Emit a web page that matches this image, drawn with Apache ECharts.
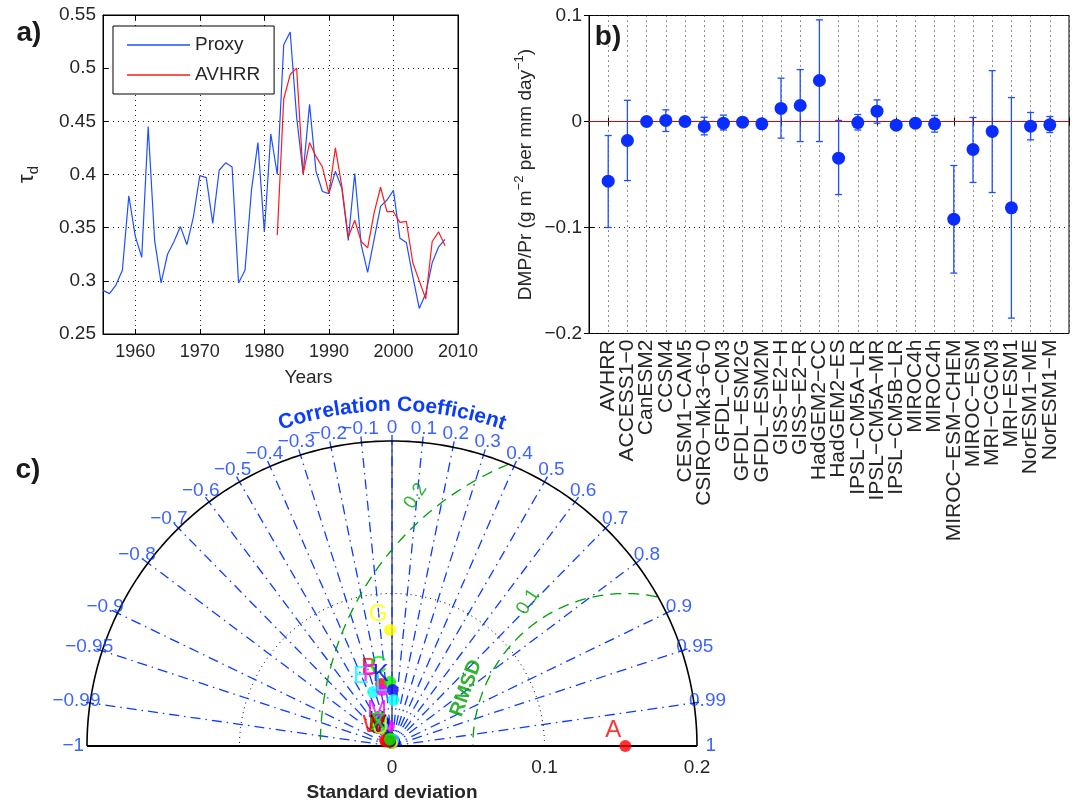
<!DOCTYPE html>
<html><head><meta charset="utf-8">
<script src="https://cdn.jsdelivr.net/npm/echarts@6/dist/echarts.min.js"></script>
<style>html,body{margin:0;padding:0;background:#fff}#chart{width:1079px;height:805px}</style>
</head><body><div id="chart"></div>
<script>
// ---------- Panel a data ----------
const proxyYears = [1955,1956,1957,1958,1959,1960,1961,1962,1963,1964,1965,1966,1967,1968,1969,1970,1971,1972,1973,1974,1975,1976,1977,1978,1979,1980,1981,1982,1983,1984,1985,1986,1987,1988,1989,1990,1991,1992,1993,1994,1995,1996,1997,1998,1999,2000,2001,2002,2003,2004,2005,2006,2007,2008];
const proxyValues = [0.291,0.288,0.296,0.310,0.380,0.342,0.322,0.445,0.338,0.298,0.325,0.337,0.351,0.334,0.360,0.399,0.397,0.354,0.404,0.411,0.407,0.298,0.310,0.385,0.430,0.346,0.438,0.400,0.522,0.534,0.454,0.401,0.466,0.403,0.384,0.382,0.403,0.387,0.338,0.401,0.334,0.308,0.339,0.370,0.376,0.385,0.340,0.336,0.304,0.274,0.288,0.317,0.332,0.339];
const avhrrYears = [1982,1983,1984,1985,1986,1987,1988,1989,1990,1991,1992,1993,1994,1995,1996,1997,1998,1999,2000,2001,2002,2003,2004,2005,2006,2007,2008];
const avhrrValues = [0.343,0.471,0.494,0.500,0.400,0.430,0.417,0.407,0.382,0.425,0.389,0.341,0.357,0.337,0.331,0.364,0.388,0.365,0.365,0.355,0.356,0.317,0.300,0.283,0.337,0.346,0.333];
const yearTicks = [1960,1970,1980,1990,2000,2010];

// ---------- Panel b data ----------
const modelNames = ['AVHRR','ACCESS1\u22120','CanESM2','CCSM4','CESM1\u2212CAM5','CSIRO\u2212Mk3\u22126\u22120','GFDL\u2212CM3','GFDL\u2212ESM2G','GFDL\u2212ESM2M','GISS\u2212E2\u2212H','GISS\u2212E2\u2212R','HadGEM2\u2212CC','HadGEM2\u2212ES','IPSL\u2212CM5A\u2212LR','IPSL\u2212CM5A\u2212MR','IPSL\u2212CM5B\u2212LR','MIROC4h','MIROC4h','MIROC\u2212ESM\u2212CHEM','MIROC\u2212ESM','MRI\u2212CGCM3','MRI\u2212ESM1','NorESM1\u2212ME','NorESM1\u2212M'];
const dmpValues = [-0.0563,-0.0179,0.0000,0.0010,0.0000,-0.0047,-0.0016,-0.0006,-0.0022,0.0123,0.0151,0.0387,-0.0346,-0.0010,0.0097,-0.0035,-0.0016,-0.0022,-0.0921,-0.0264,-0.0094,-0.0814,-0.0044,-0.0031];
const dmpHigh = [-0.0132,0.0200,0.0010,0.0110,0.0010,0.0040,0.0060,0.0010,0.0005,0.0409,0.0490,0.0959,0.0010,0.0066,0.0204,-0.0020,-0.0005,0.0057,-0.0415,0.0038,0.0480,0.0226,0.0085,0.0047];
const dmpLow = [-0.1000,-0.0557,-0.0010,-0.0094,-0.0010,-0.0126,-0.0080,-0.0020,-0.0040,-0.0157,-0.0189,-0.0189,-0.0689,-0.0080,-0.0016,-0.0050,-0.0030,-0.0100,-0.1430,-0.0575,-0.0670,-0.1855,-0.0173,-0.0104];

// ---------- Panel c data (Taylor diagram) ----------
const taylorLetters = ['A','B','C','D','E','F','G','H','I','J','K','L','M','N','O','P','Q','R','S','T','U','V','W','X'];
const taylorStd  = [0.153,0.0413,0.0420,0.0040,0.0375,0.0373,0.0760,0.0062,0.0060,0.0043,0.0367,0.0302,0.0133,0.0030,0.0020,0.0040,0.0050,0.0030,0.0040,0.0035,0.0020,0.0030,0.0050,0.0045];
const taylorCorr = [1.00,-0.174,-0.03,0.30,-0.33,-0.18,-0.017,-0.32,-0.76,-0.41,0.012,0.03,-0.15,0.10,-0.20,-0.60,-0.20,0.50,0.20,-0.10,0.00,-0.40,-0.80,-0.30];
const taylorColorCycle = ['#ff0000','#00ee00','#0000ff','#00ffff','#ff00ff','#ffff00','#000000'];
const corrTickValues = [-1,-0.99,-0.95,-0.9,-0.8,-0.7,-0.6,-0.5,-0.4,-0.3,-0.2,-0.1,0,0.1,0.2,0.3,0.4,0.5,0.6,0.7,0.8,0.9,0.95,0.99,1];
const corrTickLabels = ['\u22121','\u22120.99','\u22120.95','\u22120.9','\u22120.8','\u22120.7','\u22120.6','\u22120.5','\u22120.4','\u22120.3','\u22120.2','\u22120.1','0','0.1','0.2','0.3','0.4','0.5','0.6','0.7','0.8','0.9','0.95','0.99','1'];
const stdMax = 0.2;
const stdCircleLevels = [0.1];
const rmsdLevels = [0.1, 0.2];
const rmsdLabels = ['0.1', '0.2'];

// ---------- styling ----------
const FF = '"Liberation Sans", Arial, Helvetica, sans-serif';
const TXT = '#262626';
const BLUE = '#0a3cff';
const LBLUE = '#1f4fff';
const GREEN = '#00a000';

const chart = echarts.init(document.getElementById('chart'), null, {renderer:'canvas'});

function polarXY(s, c) { return [s * c, s * Math.sqrt(Math.max(0, 1 - c * c))]; }
function fmtNum(v) { const s = String(+v.toFixed(3)); return s.replace('-', '\u2212'); }

// Taylor reference geometry
const refStd = taylorStd[0];
const arcData = [];
for (let d = 0; d <= 180; d += 1) arcData.push(polarXY(stdMax, Math.cos(d * Math.PI / 180)));
const cSeries = [];
cSeries.push({type:'line', xAxisIndex:4, yAxisIndex:4, data:arcData, showSymbol:false, symbol:'none', clip:false, silent:true,
  lineStyle:{color:'#000', width:1.6}, z:5});
stdCircleLevels.forEach(s => {
  const d = []; for (let a = 0; a <= 180; a += 1) d.push(polarXY(s, Math.cos(a * Math.PI / 180)));
  cSeries.push({type:'line', xAxisIndex:4, yAxisIndex:4, data:d, showSymbol:false, symbol:'none', clip:false, silent:true,
    lineStyle:{color:'#000', width:1, type:[1,4]}, z:3});
});
corrTickValues.forEach(c => {
  if (Math.abs(c) >= 1) return;
  cSeries.push({type:'line', xAxisIndex:4, yAxisIndex:4, data:[[0,0], polarXY(stdMax * 1.025, c)], showSymbol:false, symbol:'none', clip:false, silent:true,
    lineStyle:{color:BLUE, width:1.3, type:[10,5,1.5,5]}, z:3});
});
cSeries.push({type:'line', xAxisIndex:4, yAxisIndex:4, data:[[0,0],[0,stdMax]], showSymbol:false, symbol:'none', clip:false, silent:true,
  lineStyle:{color:'#000', width:1}, z:2});
cSeries.push({type:'line', xAxisIndex:4, yAxisIndex:4, data:[[-stdMax,0],[stdMax,0]], showSymbol:false, symbol:'none', clip:false, silent:true,
  lineStyle:{color:'#000', width:2.2}, z:6});
rmsdLevels.forEach(r => {
  const d = [];
  for (let a = 0; a <= 180; a += 0.5) {
    const t = a * Math.PI / 180;
    const p = [refStd + r * Math.cos(t), r * Math.sin(t)];
    if (Math.hypot(p[0], p[1]) <= stdMax + 1e-9) d.push(p);
  }
  cSeries.push({type:'line', xAxisIndex:4, yAxisIndex:4, data:d, showSymbol:false, symbol:'none', clip:false, silent:true,
    lineStyle:{color:GREEN, width:1.3, type:[11,7]}, z:4});
});
cSeries.push({type:'scatter', xAxisIndex:4, yAxisIndex:4, clip:false, silent:true, symbolSize:1, itemStyle:{color:'rgba(0,0,0,0)'}, z:7,
  data: rmsdLevels.map((r, i) => {
    const t = (i === 0 ? 124 : 130) * Math.PI / 180, k = i === 0 ? 1.14 : 1.07;
    return {value:[refStd + r * k * Math.cos(t), r * k * Math.sin(t)], label:{formatter:rmsdLabels[i]}};
  }),
  label:{show:true, position:'inside', rotate:57, color:GREEN, fontSize:19, fontFamily:FF}
});
cSeries.push({type:'scatter', xAxisIndex:4, yAxisIndex:4, clip:false, silent:true, symbolSize:1, itemStyle:{color:'rgba(0,0,0,0)'}, z:7,
  data: [{value:[refStd + 0.111 * Math.cos(160 * Math.PI / 180), 0.111 * Math.sin(160 * Math.PI / 180)]}],
  label:{show:true, position:'inside', rotate:70, formatter:'RMSD', color:GREEN, fontSize:20, fontWeight:'bold', fontFamily:FF}
});
cSeries.push({type:'scatter', xAxisIndex:4, yAxisIndex:4, clip:false, silent:true, symbolSize:1, itemStyle:{color:'rgba(0,0,0,0)'}, z:7,
  data: corrTickValues.map((c, i) => ({value: polarXY(stdMax * 1.045, c), label:{formatter: corrTickLabels[i]}})),
  label:{show:true, position:'inside', color:BLUE, fontSize:19, fontFamily:FF}
});
cSeries.push({type:'scatter', xAxisIndex:4, yAxisIndex:4, clip:false, silent:true, symbolSize:12, z:10,
  data: taylorLetters.map((L, i) => {
    const col = i === 0 ? '#ff0000' : taylorColorCycle[(i - 1) % taylorColorCycle.length];
    return {name:L, value: polarXY(taylorStd[i], taylorCorr[i]), itemStyle:{color:col}, label:{color:col}};
  }),
  label:{show:true, position:'inside', offset:[-12,-16], formatter:p => p.name, fontSize:24, fontFamily:FF}
});

const dotted = {show:true, lineStyle:{color:'#222', width:1, type:[1,4]}};

const option = {
  animation:false,
  backgroundColor:'#fff',
  textStyle:{fontFamily:FF},
  grid:[
    {left:103, top:15, width:355, height:319, show:true, borderColor:'#000', borderWidth:1, backgroundColor:'transparent'},
    {left:589, top:15.5, width:480, height:318, show:true, borderColor:'#000', borderWidth:1, backgroundColor:'transparent'},
    {left:87, top:441, width:610, height:305}
  ],
  legend:{left:113, top:26, orient:'vertical', icon:'rect', itemWidth:63, itemHeight:1.4, itemGap:8, padding:[8,14,8,14],
    borderColor:'#000', borderWidth:1, backgroundColor:'#fff', borderRadius:0,
    textStyle:{fontSize:19, lineHeight:22, color:TXT, fontFamily:FF}, data:['Proxy','AVHRR']},
  xAxis:[
    {gridIndex:0, type:'value', min:1955, max:2010, name:'Years', nameLocation:'middle', nameGap:34,
      nameTextStyle:{fontSize:19, color:TXT, fontFamily:FF, padding:[0,0,0,56]},
      axisLine:{lineStyle:{color:'#000'}}, axisTick:{inside:true, length:5, customValues:yearTicks, lineStyle:{color:'#000'}},
      axisLabel:{customValues:yearTicks, fontSize:18, color:TXT, margin:9, fontFamily:FF, formatter:v => String(Math.round(v))}, splitLine:dotted},
    {gridIndex:0, type:'value', position:'top', min:1955, max:2010,
      axisLine:{lineStyle:{color:'#000'}}, axisTick:{inside:true, length:5, customValues:yearTicks, lineStyle:{color:'#000'}},
      axisLabel:{show:false}, splitLine:{show:false}},
    {gridIndex:1, type:'value', min:0, max:25, interval:1,
      axisLine:{lineStyle:{color:'#000'}}, axisTick:{inside:true, length:4, lineStyle:{color:'#000'}},
      axisLabel:{rotate:90, fontSize:21, color:TXT, margin:6, fontFamily:FF, showMinLabel:true, showMaxLabel:true,
        formatter:v => (v >= 1 && v <= modelNames.length) ? modelNames[Math.round(v) - 1] : ''},
      splitLine:dotted},
    {gridIndex:1, type:'value', position:'top', min:0, max:25, interval:1,
      axisLine:{lineStyle:{color:'#000'}}, axisTick:{inside:true, length:4, lineStyle:{color:'#000'}},
      axisLabel:{show:false}, splitLine:{show:false}},
    {gridIndex:2, type:'value', min:-0.2, max:0.2, interval:0.1, name:'Standard deviation', nameLocation:'middle', nameGap:37,
      nameTextStyle:{fontSize:19, fontWeight:'bold', color:TXT, fontFamily:FF},
      axisLine:{show:false}, axisTick:{show:false}, splitLine:{show:false},
      axisLabel:{fontSize:19, color:TXT, margin:12, fontFamily:FF,
        formatter:v => v < -1e-9 ? '' : (Math.abs(v) < 1e-9 ? '0' : String(+v.toFixed(1)))}}
  ],
  yAxis:[
    {gridIndex:0, type:'value', min:0.25, max:0.55, interval:0.05, name:'{t|\u03c4}{s|d}', nameLocation:'middle', nameGap:62,
      nameTextStyle:{color:TXT, fontFamily:FF, rich:{t:{fontSize:22, lineHeight:28, color:TXT, fontFamily:FF}, s:{fontSize:15, lineHeight:28, verticalAlign:'bottom', color:TXT, fontFamily:FF}}},
      axisLine:{lineStyle:{color:'#000'}}, axisTick:{inside:true, length:5, lineStyle:{color:'#000'}},
      axisLabel:{fontSize:19, color:TXT, margin:7, fontFamily:FF, formatter:v => String(+v.toFixed(2))}, splitLine:dotted},
    {gridIndex:0, type:'value', position:'right', min:0.25, max:0.55, interval:0.05,
      axisLine:{lineStyle:{color:'#000'}}, axisTick:{inside:true, length:5, lineStyle:{color:'#000'}},
      axisLabel:{show:false}, splitLine:{show:false}},
    {gridIndex:1, type:'value', min:-0.2, max:0.1, interval:0.1,
      name:'{n|DMP/Pr (g m}{p|\u22122}{n| per mm day}{p|\u22121}{n|)}', nameLocation:'middle', nameGap:50,
      nameTextStyle:{color:TXT, fontFamily:FF, rich:{n:{fontSize:19, lineHeight:26, color:TXT, fontFamily:FF}, p:{fontSize:13, lineHeight:26, verticalAlign:'top', color:TXT, fontFamily:FF}}},
      axisLine:{lineStyle:{color:'#000'}}, axisTick:{inside:true, length:5, lineStyle:{color:'#000'}},
      axisLabel:{fontSize:19, color:TXT, margin:7, fontFamily:FF, formatter:fmtNum}, splitLine:dotted},
    {gridIndex:1, type:'value', position:'right', min:-0.2, max:0.1, interval:0.1,
      axisLine:{lineStyle:{color:'#000'}}, axisTick:{inside:true, length:5, lineStyle:{color:'#000'}},
      axisLabel:{show:false}, splitLine:{show:false}},
    {gridIndex:2, type:'value', min:0, max:0.2, show:false}
  ],
  series:[
    {name:'Proxy', type:'line', xAxisIndex:0, yAxisIndex:0, data:proxyYears.map((y, i) => [y, proxyValues[i]]),
      symbol:'none', showSymbol:false, lineStyle:{color:LBLUE, width:1.2}, itemStyle:{color:LBLUE}, z:4},
    {name:'AVHRR', type:'line', xAxisIndex:0, yAxisIndex:0, data:avhrrYears.map((y, i) => [y, avhrrValues[i]]),
      symbol:'none', showSymbol:false, lineStyle:{color:'#ff1a1a', width:1.2}, itemStyle:{color:'#ff1a1a'}, z:5},
    {type:'line', xAxisIndex:2, yAxisIndex:2, data:[[0,0],[25,0]], symbol:'none', showSymbol:false, silent:true,
      lineStyle:{color:'#e00000', width:1.2}, z:3},
    {type:'custom', xAxisIndex:2, yAxisIndex:2, z:4, silent:true,
      data: dmpValues.map((v, i) => [i + 1, dmpLow[i], dmpHigh[i]]),
      encode:{x:0, y:[1,2]},
      renderItem:function(params, api){
        const x = api.value(0), lo = api.value(1), hi = api.value(2);
        const p1 = api.coord([x, hi]), p2 = api.coord([x, lo]);
        const cw = 3.5, st = {stroke:LBLUE, lineWidth:1.3};
        return {type:'group', children:[
          {type:'line', shape:{x1:p1[0], y1:p1[1], x2:p2[0], y2:p2[1]}, style:st},
          {type:'line', shape:{x1:p1[0]-cw, y1:p1[1], x2:p1[0]+cw, y2:p1[1]}, style:st},
          {type:'line', shape:{x1:p2[0]-cw, y1:p2[1], x2:p2[0]+cw, y2:p2[1]}, style:st}
        ]};
      }},
    {type:'scatter', xAxisIndex:2, yAxisIndex:2, data: dmpValues.map((v, i) => [i + 1, v]), symbolSize:13,
      itemStyle:{color:'#0a2dff', opacity:1}, z:6, silent:true}
  ].concat(cSeries)
};
chart.setOption(option);

// ---------- text: panel letters, curved title ----------
const graphics = [
  {type:'text', x:29, y:33, style:{text:'a)', font:'bold 28px ' + FF, fill:'#1a1a1a', align:'center', verticalAlign:'middle', textAlign:'center', textVerticalAlign:'middle'}},
  {type:'text', x:608, y:37, style:{text:'b)', font:'bold 28px ' + FF, fill:'#1a1a1a', align:'center', verticalAlign:'middle', textAlign:'center', textVerticalAlign:'middle'}, z:100},
  {type:'text', x:28, y:470, style:{text:'c)', font:'bold 28px ' + FF, fill:'#1a1a1a', align:'center', verticalAlign:'middle', textAlign:'center', textVerticalAlign:'middle'}}
];
const c0 = chart.convertToPixel({xAxisIndex:4, yAxisIndex:4}, [0, 0]);
const cT = chart.convertToPixel({xAxisIndex:4, yAxisIndex:4}, [0, stdMax * 1.118]);
const R = c0[1] - cT[1];
const titleText = 'Correlation Coefficient';
const titleFont = 'bold 21px ' + FF;
const ctx = document.createElement('canvas').getContext('2d');
ctx.font = titleFont;
const widths = Array.from(titleText).map(ch => ctx.measureText(ch).width);
const total = widths.reduce((a, b) => a + b, 0) * 1.02;
let cum = 0;
Array.from(titleText).forEach((ch, i) => {
  const w = widths[i] * 1.02;
  const phi = (cum + w / 2 - total / 2) / R;
  cum += w;
  graphics.push({type:'text', x: c0[0] + R * Math.sin(phi), y: c0[1] - R * Math.cos(phi), rotation: -phi,
    style:{text:ch, font:titleFont, fill:BLUE, align:'center', verticalAlign:'middle', textAlign:'center', textVerticalAlign:'middle'}});
});
chart.setOption({graphic: graphics});
</script>
</body></html>
